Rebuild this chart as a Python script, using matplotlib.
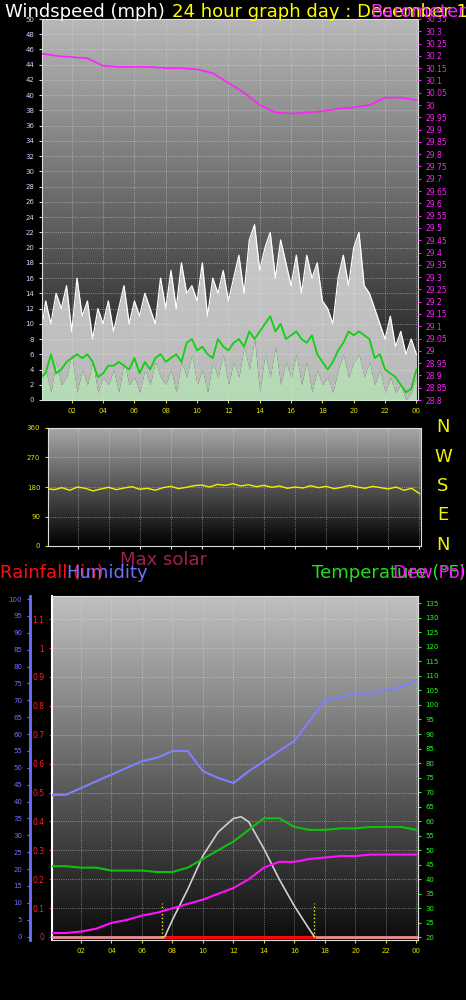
import numpy as np
import matplotlib
matplotlib.use("Agg")
import matplotlib.pyplot as plt
from matplotlib.colors import LinearSegmentedColormap

# ---------------- data ----------------
t20 = [i / 3 for i in range(73)]
gust = [8,13,10,14,12,15,9,16,11,13,8,12,10,
        13,9,12,15,10,13,11,14,12,10,16,12,
        17,12,18,14,15,13,18,11,16,14,17,13,
        16,19,14,21,23,17,20,22,16,21,18,15,
        19,14,19,16,18,13,12,10,16,19,15,20,
        22,15,14,12,10,8,11,7,9,6,8,6]
avg = [3,3.5,6,3.5,4,5,5.5,6,5.5,6,5,3,3.5,
       4.5,4.5,5,4.5,4,5.5,3.5,5,4,5.5,6,5,
       5.5,6,5,7.5,8,6.5,7,6,5.5,8,7,6.5,
       7.5,8,7,9,8,9,10,11,9,10,8,8.5,
       9,8,7.5,8.5,6,5,4,5,6.5,7.5,9,8.5,
       9,8.5,8,5.5,6,4,3.5,3,2,1,1.5,4]
speed = [2,4,1,5,2,3,6,1,4,2,5,1,3,
         2,4,1,5,2,3,1,4,2,5,3,2,
         4,1,5,3,6,2,4,1,5,3,6,2,
         5,3,7,4,8,1,6,3,7,2,5,3,
         6,2,5,1,4,2,3,1,4,6,3,5,
         6,3,5,2,4,1,3,1,2,0,1,3]
hours = list(range(25))
pressure = [30.21,30.20,30.195,30.19,30.16,30.155,30.155,30.155,30.15,30.15,30.145,30.13,
            30.09,30.05,30.0,29.97,29.965,29.97,29.975,29.985,29.99,30.0,30.03,30.03,30.02]
t30 = [i / 2 for i in range(49)]
direction = [175,172,178,170,180,176,168,174,179,172,177,181,173,176,170,178,182,175,179,184,
             186,180,188,185,190,183,187,181,185,179,183,176,180,177,184,178,182,175,179,185,
             180,176,182,178,174,180,170,176,160]
humidity = [42,42,44,46,48,50,52,53,55,55,49,47,45.5,49,52,55,58,64,70,71,72,72,73,74,76]
temperature = [44.5,44.5,44,44,43,43,43,42.5,42.5,44,47,50,53,57,61,61,58,57,57,57.5,57.5,58,58,58,57]
dewpoint = [21.5,21.5,22,23,25,26,27.5,28.5,30,31.5,33,35,37,40,44,46,46,47,47.5,48,48,48.5,48.5,48.5,48.5]
solar_t = [7.5,8,9,10,11,12,12.5,13,14,15,16,17,17.3]
solar = [0,5,14,24,31,35,35.5,34,26,17,9,2,0]
sun_lines = [7.3, 17.3]
xticks = [2,4,6,8,10,12,14,16,18,20,22,24]
xlabels = ["02","04","06","08","10","12","14","16","18","20","22","00"]

W, H = 466, 1000
fig = plt.figure(figsize=(W/100, H/100), dpi=100, facecolor="black")

def ax_px(l, t, r, b):
    return fig.add_axes([l/W, 1-b/H, (r-l)/W, (b-t)/H])

def bg(ax, top, bot):
    g = np.linspace(0, 1, 256).reshape(-1, 1)
    cm = LinearSegmentedColormap.from_list("g", [bot, top])
    ax.imshow(g, aspect="auto", cmap=cm, origin="lower", extent=[0, 1, 0, 1],
              transform=ax.transAxes, zorder=0)

def style(ax):
    ax.set_facecolor("black")
    for s in ax.spines.values():
        s.set_color("#dddddd")
    ax.grid(True, color="#e8e8e8", ls=":", lw=0.6, alpha=0.6, zorder=1)
    ax.tick_params(labelsize=5, length=2, color="#dddddd")

# ---------- panel 1 ----------
a1 = ax_px(42, 19, 418, 400)
bg(a1, "#b8b8b8", "#141414")
style(a1)
a1.set_xlim(0.1, 24.1); a1.set_ylim(0, 50)
a1.fill_between(t20, speed, gust, color="#f0f0f0", alpha=0.75, zorder=2, lw=0)
a1.plot(t20, gust, color="#ffffff", lw=0.9, zorder=2)
a1.fill_between(t20, 0, speed, color="#c8f0c8", alpha=0.9, zorder=3, lw=0)
a1.plot(t20, avg, color="#10d010", lw=1.3, zorder=4)
a1.set_yticks(range(0, 51, 2))
a1.tick_params(axis="y", colors="#c8d8ff", labelsize=5)
a1.set_xticks(xticks); a1.set_xticklabels(xlabels)
a1.tick_params(axis="x", colors="#e0e000", labelsize=5)
a1p = a1.twinx()
a1p.set_ylim(28.8, 30.35)
a1p.plot(hours, pressure, color="#ff20ff", lw=1.2, zorder=5)
pv = np.arange(28.8, 30.351, 0.05)
a1p.set_yticks(np.round(pv, 2))
a1p.set_yticklabels([("%.2f" % v).rstrip("0").rstrip(".") for v in pv])
a1p.tick_params(axis="y", colors="#ff20ff", labelsize=5.5, length=2)
for s in a1p.spines.values(): s.set_visible(False)

# ---------- panel 2 ----------
a2 = ax_px(48, 428, 421, 546)
bg(a2, "#a8a8a8", "#000000")
style(a2)
a2.set_xlim(0.1, 24.1); a2.set_ylim(0, 360)
a2.plot(t30, direction, color="#f0f000", lw=1.0, zorder=3)
a2.set_yticks([0, 90, 180, 270, 360])
a2.tick_params(axis="y", colors="#e0e000", labelsize=5)
a2.set_xticks(xticks); a2.set_xticklabels([])
for i, c in enumerate("NWSEN"):
    fig.text(443/W, 1-(427+29.5*i)/H, c, color="#f0f000", fontsize=13, ha="center", va="center")

# ---------- panel 3 ----------
a3 = ax_px(52, 596, 418, 940)
bg(a3, "#c0c0c0", "#0c0c0c")
style(a3)
a3.set_xlim(0.1, 24.1)
a3.set_ylim(-3/288, 1.18)
a3.plot([0.1, 24.1], [0, 0], color="#e89090", lw=2, zorder=3)
a3.plot([7.5, 17.3], [0, 0], color="#ff0000", lw=2, zorder=4)
a3.set_yticks([round(v, 1) for v in np.arange(0, 1.11, 0.1)])
a3.set_yticklabels(["0","0.1","0.2","0.3","0.4","0.5","0.6","0.7","0.8","0.9","1","1.1"])
a3.tick_params(axis="y", colors="#ff2020", labelsize=5.5)
a3.set_xticks(xticks); a3.set_xticklabels(xlabels)
a3.tick_params(axis="x", colors="#e0e000", labelsize=5)
a3.spines["left"].set_color("#ffffff"); a3.spines["left"].set_linewidth(1.5)

ah = a3.twinx()
ah.set_ylim(-1, 100.9)
for s in ["right", "top", "bottom"]: ah.spines[s].set_visible(False)
ah.yaxis.set_ticks_position("left"); ah.yaxis.set_label_position("left")
ah.spines["left"].set_position(("outward", 16))
ah.spines["left"].set_color("#7070ff"); ah.spines["left"].set_linewidth(2)
ah.set_yticks(range(0, 101, 5))
ah.tick_params(axis="y", colors="#7070ff", labelsize=5, length=2)
ah.plot(hours, humidity, color="#8080ff", lw=1.5, zorder=5)
ah.plot(solar_t, solar, color="#d0d0d0", lw=1.2, zorder=5)
for s in sun_lines:
    ah.plot([s, s], [0, 10], color="#f0f000", ls=":", lw=1, zorder=5)

at = a3.twinx()
at.set_ylim(19.1, 137.5)
for s in ["left", "top", "bottom"]: at.spines[s].set_visible(False)
at.spines["right"].set_color("#dddddd")
at.plot(hours, temperature, color="#10c010", lw=1.5, zorder=6)
at.plot(hours, dewpoint, color="#ff10ff", lw=1.5, zorder=6)
at.set_yticks(range(20, 136, 5))
at.tick_params(axis="y", colors="#20ff20", labelsize=5, length=2)

# ---------- titles ----------
fs = 13
fig.text(5/W, 1-12/H, "Windspeed (mph)", color="white", fontsize=fs, va="center")
fig.text(172/W, 1-12/H, "24 hour graph day : December 16 2022", color="#ffff00", fontsize=fs, va="center")
fig.text(370/W, 1-12/H, "Barometer", color="#ff20ff", fontsize=fs, va="center")
fig.text(120/W, 1-560/H, "Max solar", color="#a02050", fontsize=fs, va="center")
fig.text(0/W, 1-573/H, "Rainfall (in)", color="#ff1010", fontsize=fs, va="center")
fig.text(66/W, 1-573/H, "Humidity", color="#7070ff", fontsize=fs, va="center")
fig.text(312/W, 1-573/H, "Temperature (°F)", color="#20e020", fontsize=fs, va="center")
fig.text(393/W, 1-573/H, "Dew Point", color="#ff10ff", fontsize=fs, va="center")

fig.savefig("out.png", dpi=100, facecolor="black")
